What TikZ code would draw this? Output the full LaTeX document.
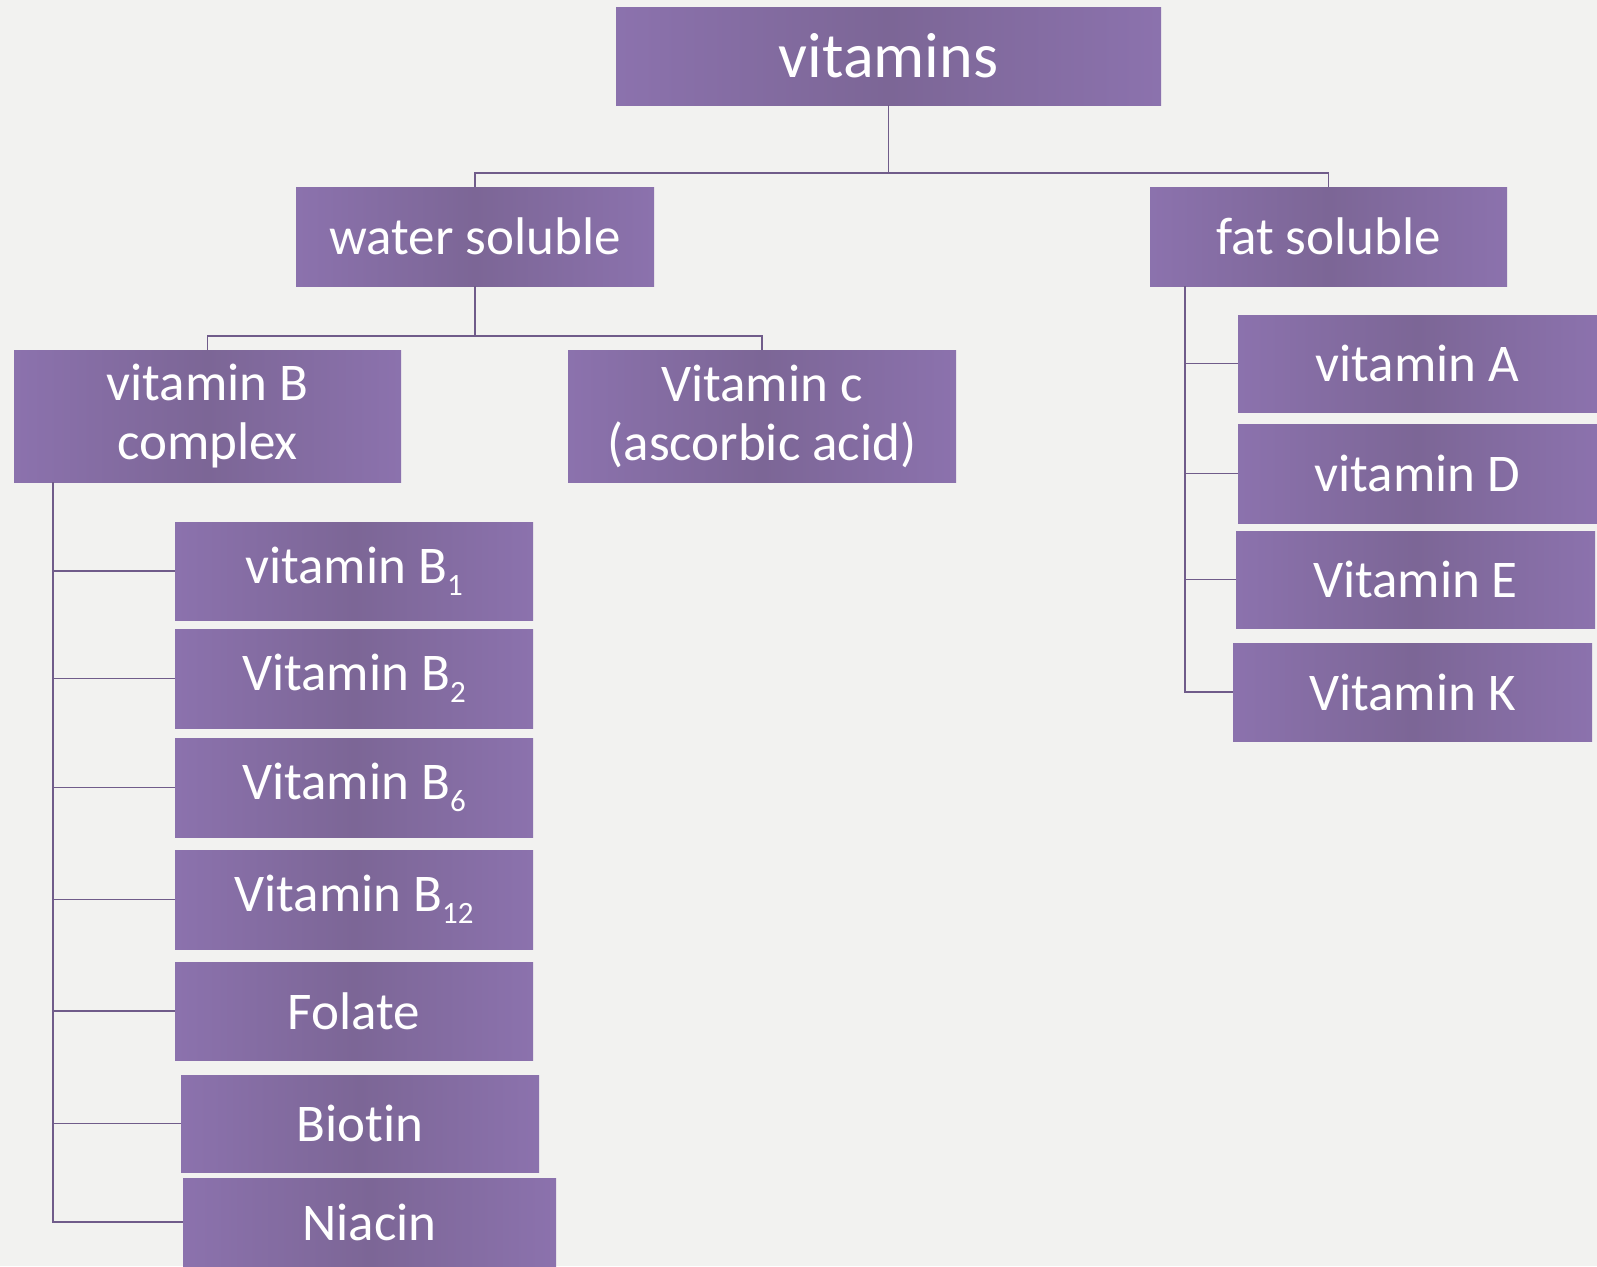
\documentclass[tikz,border=0pt]{standalone}
\usepackage{fontspec}
\setmainfont{Carlito}[Ligatures=NoCommon]
\definecolor{vlight}{RGB}{150,122,189}
\definecolor{vdark}{RGB}{124,102,150}
\definecolor{vline}{RGB}{112,92,138}
\definecolor{bgc}{RGB}{242,242,240}
\pgfdeclarehorizontalshading{boxshade}{100bp}{color(0bp)=(vlight); color(8bp)=(vlight); color(50bp)=(vdark); color(92bp)=(vlight); color(100bp)=(vlight)}
\newcommand\subnum[1]{\raisebox{-12pt}{\fontsize{31}{31}\selectfont #1}}
\tikzset{
  vb/.style={shading=boxshade, inner sep=0pt, text=white, align=center,
    font=\fontsize{53}{59}\selectfont},
  conn/.style={draw=vline, line width=1.8pt}
}
\begin{document}
\begin{tikzpicture}[x=1pt,y=-1pt]
\useasboundingbox (0,0) rectangle (1597,1266);
\fill[bgc] (0,0) rectangle (1597,1266);
\node[vb, minimum width=545pt, minimum height=98pt, font=\fontsize{64}{70}\selectfont] (top) at (888.5,56) {vitamins};
\node[vb, minimum width=358pt, minimum height=99pt] (water) at (475,236.5) {water soluble};
\node[vb, minimum width=357pt, minimum height=99pt] (fat) at (1328.5,236.5) {fat soluble};
\node[vb, minimum width=387pt, minimum height=132pt] (vitB) at (207.5,416) {vitamin B\\complex};
\node[vb, minimum width=388pt, minimum height=132pt] (vitC) at (762,416) {Vitamin c\\(ascorbic acid)};
\node[vb, minimum width=358pt, minimum height=98pt] (b1) at (354,571) {vitamin B\subnum{1}};
\node[vb, minimum width=358pt, minimum height=99pt] (b2) at (354,678.5) {Vitamin B\subnum{2}};
\node[vb, minimum width=358pt, minimum height=99pt] (b6) at (354,787.5) {Vitamin B\subnum{6}};
\node[vb, minimum width=358pt, minimum height=99pt] (b12) at (354,899.5) {Vitamin B\subnum{12}};
\node[vb, minimum width=358pt, minimum height=98pt] (folate) at (354,1011) {Folate};
\node[vb, minimum width=358pt, minimum height=97pt] (biotin) at (360,1123.5) {Biotin};
\node[vb, minimum width=373pt, minimum height=88pt] (niacin) at (369.5,1222) {Niacin};
\node[vb, minimum width=359pt, minimum height=97pt] (va) at (1417.5,363.5) {vitamin A};
\node[vb, minimum width=359pt, minimum height=99pt] (vd) at (1417.5,473.5) {vitamin D};
\node[vb, minimum width=359pt, minimum height=97pt] (ve) at (1415.5,579.5) {Vitamin E};
\node[vb, minimum width=359pt, minimum height=98pt] (vk) at (1412.5,692) {Vitamin K};
% top level connectors
\coordinate (topbar) at (888.5,173);
\draw[conn] (top.south) -- (topbar);
\draw[conn] (topbar) -| (water.north);
\draw[conn] (topbar) -| (fat.north);
% water soluble connectors
\coordinate (wbar) at (475,336);
\draw[conn] (water.south) -- (wbar);
\draw[conn] (wbar) -| (vitB.north);
\draw[conn] (wbar) -| (vitC.north);
% B complex spine
\coordinate (bspine) at ([xshift=39pt]vitB.south west);
\draw[conn] (bspine) |- (niacin.west);
\foreach \n in {b1,b2,b6,b12,folate,biotin}{
  \draw[conn] (bspine |- \n.west) -- (\n.west);
}
% fat soluble spine
\coordinate (fspine) at ([xshift=35.5pt]fat.south west);
\draw[conn] (fspine) |- (vk.west);
\foreach \n in {va,vd,ve}{
  \draw[conn] (fspine |- \n.west) -- (\n.west);
}
\end{tikzpicture}
\end{document}
